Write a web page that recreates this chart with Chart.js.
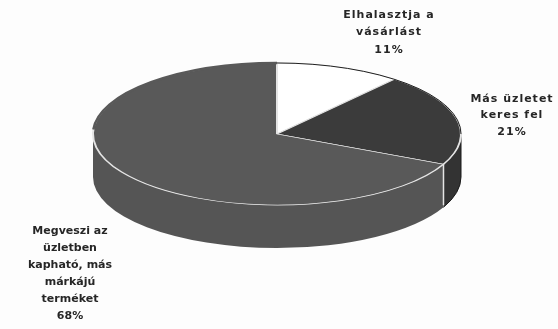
<!DOCTYPE html>
<html>
<head>
<meta charset="utf-8">
<script src="https://cdn.jsdelivr.net/npm/chart.js@4"></script>
<style>
  html, body { margin: 0; padding: 0; background: #fdfdfd; }
  canvas { display: block; }
</style>
</head>
<body>
<canvas id="chart" width="558" height="329"></canvas>
<script>
// Adatok
const categories = ['Elhalasztja a vásárlást', 'Más üzletet keres fel', 'Megveszi az üzletben kapható, más márkájú terméket'];
const shares = [11, 21, 68];
const labelLines = [
    ['Elhalasztja a', 'vásárlást'],
    ['Más üzletet', 'keres fel'],
    ['Megveszi az', 'üzletben', 'kapható, más', 'márkájú', 'terméket']
];

// Megjelenés
const topColors = ['#ffffff', '#3b3b3b', '#595959'];
const sideColors = ['#e0e0e0', '#333333', '#555555'];
const labelPos = [
    { x: 389, y: 15, lh: 17.5, sp: 1 },
    { x: 512, y: 99, lh: 16.5, sp: 1 },
    { x: 70, y: 231, lh: 17, sp: 0 }
];
const tilt = 0.386;   // függőleges lapítás
const depth = 43;     // oldalfal magassága
const topY = 134;     // a felső ellipszis középpontja

const pie3d = {
    id: 'pie3d',
    beforeDatasetsDraw(chart) {
        const ctx = chart.ctx;
        const arcs = chart.getDatasetMeta(0).data;
        const cx = arcs[0].x, r = arcs[0].outerRadius, ry = r * tilt;

        // oldalfalak (csak az elülső fél látszik)
        arcs.forEach((arc, i) => {
            const s = Math.max(arc.startAngle, 0);
            const e = Math.min(arc.endAngle, Math.PI);
            if (e <= s) return;
            ctx.beginPath();
            ctx.ellipse(cx, topY, r, ry, 0, s, e);
            ctx.ellipse(cx, topY + depth, r, ry, 0, e, s, true);
            ctx.closePath();
            ctx.fillStyle = sideColors[i];
            ctx.fill();
        });

        // jobb oldali kontúr
        ctx.strokeStyle = '#1a1a1a';
        ctx.lineWidth = 1;
        ctx.beginPath();
        ctx.moveTo(cx + r, topY);
        ctx.lineTo(cx + r, topY + depth);
        ctx.ellipse(cx, topY + depth, r, ry, 0, 0, arcs[1].endAngle);
        ctx.stroke();

        // a tető torzított kontextusban
        ctx.save();
        ctx.translate(0, topY);
        ctx.scale(1, tilt);
        ctx.translate(0, -arcs[0].y);
    },
    afterDatasetsDraw(chart) {
        const ctx = chart.ctx;
        ctx.restore();
        const arcs = chart.getDatasetMeta(0).data;
        const cx = arcs[0].x, r = arcs[0].outerRadius, ry = r * tilt;

        // hátsó perem: a nagy szeletnél nincs világos szegély
        ctx.strokeStyle = topColors[2];
        ctx.lineWidth = 2.5;
        ctx.beginPath();
        ctx.ellipse(cx, topY, r, ry, 0, Math.PI * 1.02, Math.PI * 1.5);
        ctx.stroke();
        ctx.strokeStyle = '#1f1f1f';
        ctx.lineWidth = 1;
        ctx.beginPath();
        ctx.ellipse(cx, topY, r, ry, 0, Math.PI * 1.5, Math.PI * 2);
        ctx.stroke();

        // függőleges élek a szeletek határán
        arcs.forEach(arc => {
            const a = arc.endAngle;
            if (a > 0 && a < Math.PI) {
                const x = cx + r * Math.cos(a), y = topY + ry * Math.sin(a);
                ctx.strokeStyle = '#e4e4e4';
                ctx.lineWidth = 1.5;
                ctx.beginPath();
                ctx.moveTo(x, y);
                ctx.lineTo(x, y + depth - 2);
                ctx.stroke();
            }
        });

        // feliratok
        ctx.fillStyle = '#262626';
        ctx.font = 'bold 11px "DejaVu Sans"';
        ctx.textAlign = 'center';
        ctx.textBaseline = 'middle';
        labelLines.forEach((lines, i) => {
            const p = labelPos[i];
            ctx.letterSpacing = p.sp + 'px';
            const all = lines.concat([shares[i] + '%']);
            all.forEach((t, j) => ctx.fillText(t, p.x, p.y + j * p.lh));
        });
        ctx.letterSpacing = '0px';
    }
};

new Chart(document.getElementById('chart'), {
    type: 'pie',
    data: {
        labels: categories,
        datasets: [{
            data: shares,
            backgroundColor: topColors,
            borderColor: '#e4e4e4',
            borderWidth: 2,
            radius: 184,
            clip: false
        }]
    },
    options: {
        responsive: false,
        devicePixelRatio: 1,
        animation: false,
        events: [],
        layout: { padding: { left: 0, right: 4 } },
        plugins: {
            legend: { display: false },
            tooltip: { enabled: false }
        }
    },
    plugins: [pie3d]
});
</script>
</body>
</html>
